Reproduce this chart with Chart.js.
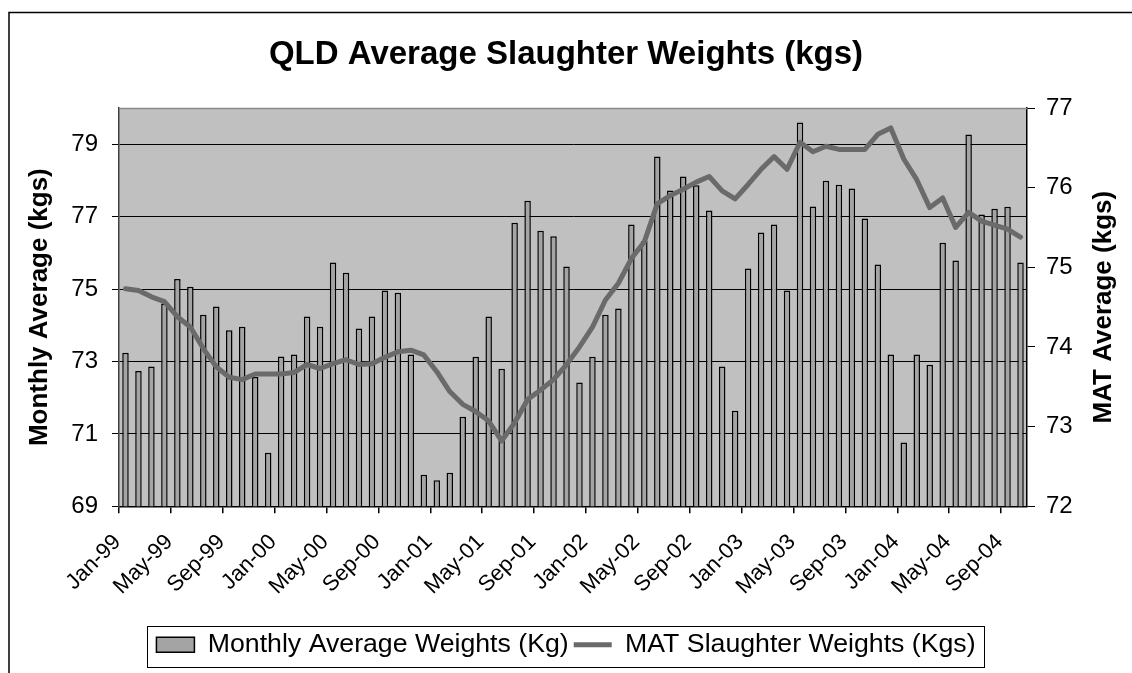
<!DOCTYPE html>
<html><head><meta charset="utf-8">
<script src="https://cdn.jsdelivr.net/npm/chart.js@4.4.1/dist/chart.umd.min.js"></script>
<style>html,body{margin:0;padding:0;background:#fff}#wrap{width:1132px;height:673px}</style>
</head><body><div id="wrap"><canvas id="c" width="1132" height="673"></canvas></div>
<script>
const categories = [
 'Jan-99','Feb-99','Mar-99','Apr-99','May-99','Jun-99','Jul-99','Aug-99','Sep-99','Oct-99','Nov-99','Dec-99',
 'Jan-00','Feb-00','Mar-00','Apr-00','May-00','Jun-00','Jul-00','Aug-00','Sep-00','Oct-00','Nov-00','Dec-00',
 'Jan-01','Feb-01','Mar-01','Apr-01','May-01','Jun-01','Jul-01','Aug-01','Sep-01','Oct-01','Nov-01','Dec-01',
 'Jan-02','Feb-02','Mar-02','Apr-02','May-02','Jun-02','Jul-02','Aug-02','Sep-02','Oct-02','Nov-02','Dec-02',
 'Jan-03','Feb-03','Mar-03','Apr-03','May-03','Jun-03','Jul-03','Aug-03','Sep-03','Oct-03','Nov-03','Dec-03',
 'Jan-04','Feb-04','Mar-04','Apr-04','May-04','Jun-04','Jul-04','Aug-04','Sep-04','Oct-04'
];
const monthlyAverage = [
 73.24, 72.74, 72.86, 74.60, 75.28, 75.06, 74.29, 74.52, 73.86, 73.96,
 72.57, 70.48, 73.14, 73.19, 74.24, 73.96, 75.73, 75.45, 73.91, 74.24,
 74.96, 74.90, 73.19, 69.87, 69.72, 69.93, 71.47, 73.13, 74.24, 72.80,
 76.83, 77.44, 76.61, 76.46, 75.62, 72.42, 73.13, 74.29, 74.46, 76.78,
 76.33, 78.66, 77.72, 78.11, 77.87, 77.17, 72.86, 71.64, 75.57, 76.56,
 76.78, 74.96, 79.60, 77.28, 77.99, 77.88, 77.78, 76.95, 75.68, 73.19,
 70.76, 73.19, 72.91, 76.28, 75.79, 79.27, 77.06, 77.22, 77.27, 75.73
];
const matAverage = [
 74.73, 74.71, 74.63, 74.57, 74.38, 74.25, 73.98, 73.75, 73.62, 73.59,
 73.66, 73.66, 73.66, 73.68, 73.78, 73.73, 73.79, 73.84, 73.78, 73.79,
 73.87, 73.94, 73.96, 73.90, 73.69, 73.44, 73.28, 73.19, 73.07, 72.82,
 73.05, 73.34, 73.46, 73.59, 73.78, 74.00, 74.25, 74.59, 74.80, 75.11,
 75.32, 75.80, 75.90, 75.98, 76.07, 76.14, 75.96, 75.86, 76.04, 76.23,
 76.39, 76.23, 76.57, 76.45, 76.52, 76.48, 76.48, 76.48, 76.67, 76.75,
 76.36, 76.10, 75.75, 75.87, 75.50, 75.69, 75.58, 75.53, 75.48, 75.38
];
const leftTicks = [69, 71, 73, 75, 77, 79];
const leftRange = [69, 80];
const rightRange = [72, 77];
const rightTitle = 'MAT Average (kgs)';

const FONT = "'Liberation Sans', Arial, sans-serif";
Chart.defaults.font.family = FONT;
Chart.defaults.color = '#000';

const decor = {
  id: 'decor',
  beforeDraw(chart) {
    const {ctx, chartArea: a} = chart;
    ctx.save();
    ctx.fillStyle = '#C0C0C0';
    ctx.fillRect(a.left, a.top, a.width, a.height);
    ctx.restore();
  },
  afterDraw(chart) {
    const {ctx, chartArea: a} = chart;
    ctx.save();
    ctx.strokeStyle = '#8A8A8A';
    ctx.lineWidth = 1.5;
    ctx.beginPath();
    ctx.moveTo(a.left, a.top + 0.5);
    ctx.lineTo(a.right, a.top + 0.5);
    ctx.stroke();
    ctx.strokeStyle = '#000';
    ctx.lineWidth = 1.5;
    ctx.beginPath();
    ctx.moveTo(9, 673);
    ctx.lineTo(9, 12.5);
    ctx.lineTo(1132, 12.5);
    ctx.stroke();
    const lg = chart.legend;
    if (lg && lg.legendHitBoxes && lg.legendHitBoxes.length) {
      const hb = lg.legendHitBoxes;
      const l = Math.min(...hb.map(h => h.left)) - 9;
      const r = Math.max(...hb.map(h => h.left + h.width)) + 9;
      ctx.lineWidth = 1;
      ctx.strokeRect(Math.round(l) + 0.5, Math.round(lg.top) + 0.5, Math.round(r - l), Math.round(lg.height) - 1);
    }
    ctx.translate(1104, (a.top + a.bottom) / 2);
    ctx.rotate(-Math.PI / 2);
    ctx.font = "bold 26px " + FONT;
    ctx.fillStyle = '#000';
    ctx.textAlign = 'center';
    ctx.textBaseline = 'middle';
    ctx.fillText(rightTitle, 0, 0);
    ctx.restore();
  }
};

new Chart(document.getElementById('c'), {
  type: 'bar',
  data: {
    labels: categories,
    datasets: [
      {
        type: 'bar',
        label: 'Monthly Average Weights (Kg)',
        data: monthlyAverage,
        yAxisID: 'y',
        backgroundColor: '#A4A4A4',
        borderColor: '#000',
        borderWidth: 1.5,
        barPercentage: 0.5,
        categoryPercentage: 1.0,
        order: 1
      },
      {
        type: 'line',
        label: 'MAT Slaughter Weights (Kgs)',
        data: matAverage,
        yAxisID: 'y2',
        borderColor: '#6A6A6A',
        backgroundColor: '#6A6A6A',
        borderWidth: 5,
        pointRadius: 0,
        pointHoverRadius: 0,
        tension: 0,
        borderJoinStyle: 'round',
        borderCapStyle: 'round',
        order: 0
      }
    ]
  },
  options: {
    responsive: false,
    animation: false,
    devicePixelRatio: 1,
    layout: { padding: { left: 0, right: 0, top: 0, bottom: 5 } },
    plugins: {
      tooltip: { enabled: false },
      title: {
        display: true,
        text: 'QLD Average Slaughter Weights (kgs)',
        color: '#000',
        font: { family: FONT, size: 33, weight: 'bold' },
        padding: { top: 35, bottom: 33.4 }
      },
      legend: {
        position: 'bottom',
        labels: {
          usePointStyle: true,
          pointStyleWidth: 38,
          boxHeight: 15,
          padding: 5,
          color: '#000',
          font: { family: FONT, size: 26.7 },
          generateLabels(chart) {
            const items = Chart.defaults.plugins.legend.labels.generateLabels(chart);
            items.sort((p, q) => p.datasetIndex - q.datasetIndex);
            items.forEach(it => {
              if (it.datasetIndex === 0) {
                it.pointStyle = 'rect';
                it.fillStyle = '#A4A4A4';
                it.strokeStyle = '#000';
                it.lineWidth = 1.5;
              } else {
                it.pointStyle = 'line';
                it.strokeStyle = '#6A6A6A';
                it.lineWidth = 5;
              }
            });
            return items;
          }
        }
      }
    },
    scales: {
      x: {
        offset: true,
        grid: {
          offset: true,
          drawOnChartArea: false,
          tickLength: 7,
          lineWidth: 1.5,
          color: c => (c.index % 4 === 0 ? '#000' : 'rgba(0,0,0,0)')
        },
        border: { color: '#000', width: 1.5 },
        ticks: {
          autoSkip: false,
          maxRotation: 45,
          minRotation: 45,
          padding: 16,
          labelOffset: -8,
          color: '#000',
          font: { family: FONT, size: 22 },
          callback: function (v, i) { return i % 4 === 0 ? this.getLabelForValue(v) : ''; }
        },
        afterFit: s => { s.height = 120; }
      },
      y: {
        position: 'left',
        min: leftRange[0],
        max: leftRange[1],
        afterBuildTicks: s => { s.ticks = leftTicks.map(v => ({ value: v })); },
        grid: { color: '#000', lineWidth: 1, tickLength: 7 },
        border: { color: '#404040', width: 1.5 },
        ticks: { color: '#000', font: { family: FONT, size: 24 }, padding: 14 },
        title: {
          display: true,
          text: 'Monthly Average (kgs)',
          color: '#000',
          font: { family: FONT, size: 26, weight: 'bold' },
          padding: { top: 24, bottom: 0 }
        },
        afterFit: s => { s.width = 119; }
      },
      y2: {
        position: 'right',
        min: rightRange[0],
        max: rightRange[1],
        ticks: { stepSize: 1, color: '#000', font: { family: FONT, size: 24 }, padding: 11 },
        grid: { drawOnChartArea: false, color: '#000', tickLength: 8 },
        border: { color: '#000', width: 1.5 },
        title: { display: false },
        afterFit: s => { s.width = 105; }
      }
    }
  },
  plugins: [decor]
});
</script>
</body></html>
